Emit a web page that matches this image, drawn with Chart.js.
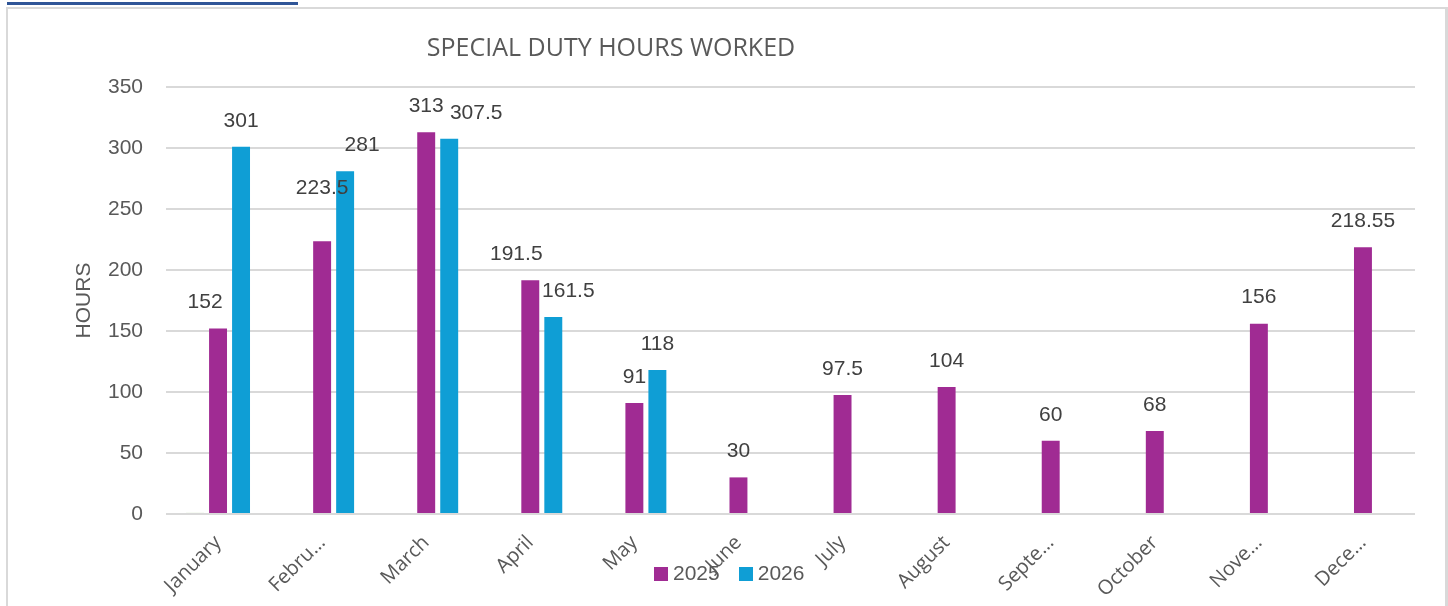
<!DOCTYPE html>
<html>
<head>
<meta charset="utf-8">
<script src="https://cdn.jsdelivr.net/npm/chart.js@4"></script>
<style>
  html, body { margin: 0; padding: 0; background: #fff; }
  body { width: 1448px; height: 606px; position: relative; overflow: hidden; }
  #topline { position: absolute; left: 7px; top: 2px; width: 291px; height: 3px; background: #2f5597; }
  #frame { position: absolute; left: 6px; top: 7px; width: 1437px; height: 640px; border: 2px solid #d9d9d9; border-right-width: 3px; }
  #chart { position: absolute; left: 0; top: 0; }
  #legend { position: absolute; top: 561px; left: 654px; font: 21px "Liberation Sans", Arial, sans-serif; color: #595959; white-space: nowrap; }
  #legend span.sw { display: inline-block; width: 14px; height: 14px; vertical-align: -1px; margin-right: 5px; }
  #legend span.item { margin-right: 19px; }
</style>
</head>
<body>
<div id="topline"></div>
<div id="frame"></div>
<canvas id="chart" width="1448" height="606"></canvas>
<div id="legend"></div>
<script>
const months = ["January", "Febru…", "March", "April", "May", "June", "July", "August", "Septe…", "October", "Nove…", "Dece…"];
const hours2025 = [152, 223.5, 313, 191.5, 91, 30, 97.5, 104, 60, 68, 156, 218.55];
const hours2026 = [301, 281, 307.5, 161.5, 118, null, null, null, null, null, null, null];
// stray near-zero series that shows as a thin line in January
const hoursOther = [0.9, null, null, null, null, null, null, null, null, null, null, null];
const yTicks = [0, 50, 100, 150, 200, 250, 300, 350];

const purple = "#a02b93";
const blue = "#0f9ed5";

// label nudges where the labels were moved apart in the original
const nudge2025 = { 0: [-13, 0], 1: [0, -27], 3: [-14, 0] };
const nudge2026 = { 1: [17, 0], 2: [27, 0], 3: [15, 0] };

const valueLabels = {
    id: "valueLabels",
    afterDatasetsDraw(chart) {
        const ctx = chart.ctx;
        ctx.save();
        ctx.font = '21px "Liberation Sans", Arial, sans-serif';
        ctx.fillStyle = "#404040";
        ctx.textAlign = "center";
        ctx.textBaseline = "middle";
        chart.data.datasets.forEach((ds, i) => {
            if (!ds.showValues) return;
            const meta = chart.getDatasetMeta(i);
            meta.data.forEach((bar, j) => {
                const v = ds.data[j];
                if (v == null) return;
                const n = (ds.nudge && ds.nudge[j]) || [0, 0];
                ctx.fillText(String(v), bar.x + n[0], bar.y - 26 + n[1]);
            });
        });
        ctx.restore();
    },
};

const chartTitle = {
    id: "chartTitle",
    afterDraw(chart) {
        const ctx = chart.ctx;
        ctx.save();
        ctx.font = '25px "Open Sans", sans-serif';
        ctx.fillStyle = "#595959";
        ctx.textAlign = "center";
        ctx.textBaseline = "middle";
        ctx.fillText("SPECIAL DUTY HOURS WORKED", 611, 49);
        ctx.restore();
    },
};

const ctx = document.getElementById("chart").getContext("2d");
new Chart(ctx, {
    type: "bar",
    data: {
        labels: months,
        datasets: [
            { label: "", data: hoursOther, backgroundColor: "#a9d18e", showValues: false },
            { label: "2025", data: hours2025, backgroundColor: purple, showValues: true, nudge: nudge2025 },
            { label: "2026", data: hours2026, backgroundColor: blue, showValues: true, nudge: nudge2026 },
        ],
    },
    options: {
        responsive: false,
        animation: false,
        devicePixelRatio: 1,
        categoryPercentage: 0.663,
        barPercentage: 0.78,
        layout: { padding: { left: 64, right: 33, top: 87, bottom: 0 } },
        plugins: {
            legend: { display: false },
            tooltip: { enabled: false },
        },
        scales: {
            x: {
                grid: { display: false },
                border: { display: false },
                ticks: {
                    color: "#595959",
                    font: { family: "'Open Sans', sans-serif", size: 20 },
                    minRotation: 45,
                    maxRotation: 45,
                    autoSkip: false,
                    padding: 9,
                },
                afterFit(scale) { scale.height = 92; },
            },
            y: {
                min: 0,
                max: 350,
                afterBuildTicks(scale) { scale.ticks = yTicks.map(v => ({ value: v })); },
                grid: { color: "#d9d9d9", lineWidth: 2, drawTicks: false },
                border: { display: false },
                ticks: {
                    color: "#595959",
                    font: { family: "'Liberation Sans', Arial, sans-serif", size: 21 },
                    padding: 23,
                },
                title: {
                    display: true,
                    text: "HOURS",
                    color: "#595959",
                    font: { family: "'Liberation Sans', Arial, sans-serif", size: 21 },
                    padding: { top: 8, bottom: 4 },
                },
                afterFit(scale) { scale.width = 102; },
            },
        },
    },
    plugins: [valueLabels, chartTitle],
});

document.getElementById("legend").innerHTML = [["2025", purple], ["2026", blue]]
    .map(([name, col]) => '<span class="item"><span class="sw" style="background:' + col + '"></span>' + name + '</span>')
    .join("");
</script>
</body>
</html>
